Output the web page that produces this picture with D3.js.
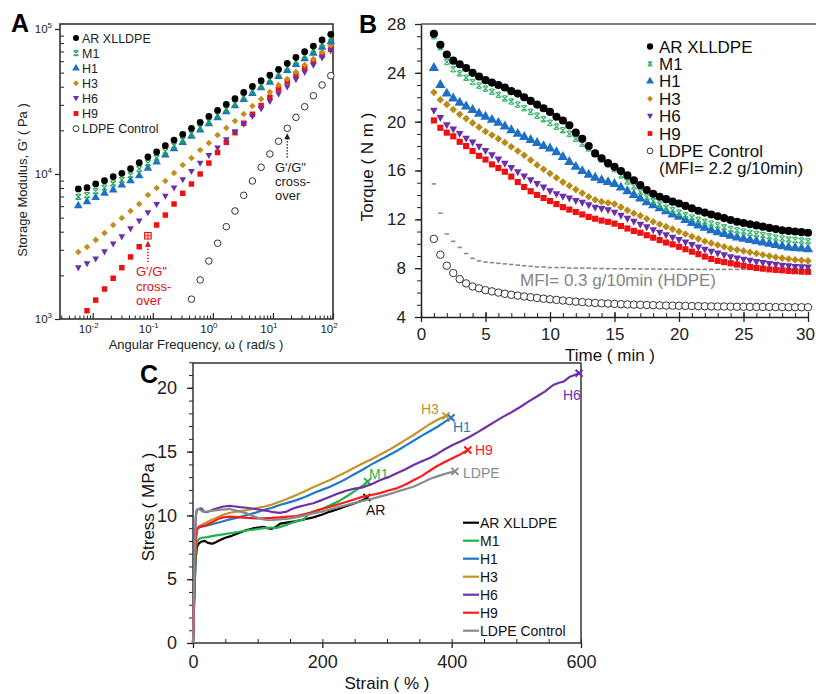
<!DOCTYPE html>
<html>
<head>
<meta charset="utf-8">
<script src="https://cdn.jsdelivr.net/npm/d3@7"></script>
<style>
  body { margin: 0; background: #fff; }
  svg { display: block; font-family: "Liberation Sans", Arial, sans-serif; }
</style>
</head>
<body>
<svg id="fig" width="816" height="694"></svg>
<script>
// ---------- Panel A: storage modulus vs angular frequency ----------
const freqA = [0.00575, 0.00803, 0.0112, 0.0157, 0.0219, 0.0305, 0.0426, 0.0594, 0.0829, 0.1158,
  0.1617, 0.2257, 0.3152, 0.4401, 0.6146, 0.858, 1.198, 1.673, 2.336, 3.262,
  4.554, 6.359, 8.88, 12.4, 17.31, 24.17, 33.75, 47.13, 65.8, 91.9];
const gAR = [7890, 8050, 8540, 8990, 9580, 10100, 10880, 11970, 13100, 14180, 15670, 17150, 18780, 20660, 22730,
  25000, 27500, 30250, 33060, 36580, 40230, 43980, 48140, 52700, 57990, 63790, 69740, 76330, 83970, 91920];
const gM1 = [6970, 7150, 7620, 8050, 8600, 9110, 9830, 10850, 11900, 12920, 14310, 15700, 17230, 19000, 20950,
  23100, 25450, 28050, 30700, 34030, 37480, 41050, 45000, 49340, 54370, 59900, 65580, 71870, 79180, 86800];
const gH1 = [6040, 6440, 6870, 7370, 7760, 8400, 8990, 9730, 10950, 12100, 13500, 14900, 16500, 18200, 20100,
  22200, 24400, 26900, 29500, 32600, 35900, 39300, 43000, 47100, 51800, 56900, 62300, 68100, 74800, 81800];
const gH3 = [2900, 3140, 3510, 3920, 4450, 4970, 5560, 6210, 7160, 8000, 8950, 10160, 11530, 12890, 14640,
  16370, 18580, 20760, 23200, 25930, 29430, 32890, 36770, 41100, 45200, 50500, 56440, 62100, 69350, 77620];
const gH6 = [2250, 2400, 2590, 2900, 3290, 3680, 4180, 4740, 5400, 6160, 7020, 8000, 9120, 10400, 11850,
  13400, 15100, 17200, 19500, 22000, 24900, 28100, 31600, 35500, 39800, 44700, 50100, 56200, 63100, 70800];
const gH9 = [null, 1140, 1350, 1610, 1910, 2260, 2680, 3150, 3750, 4450, 5210, 6210, 7360, 8530, 10000,
  11900, 14060, 16520, 19280, 22390, 25820, 29650, 33880, 38550, 43250, 48310, 53700, 59570, 65770, 72440];
const gLDPE = [null, null, null, null, null, null, null, null, null, null, null, null, null, 1370, 1860,
  2510, 3330, 4330, 5560, 7130, 8950, 11130, 13740, 16820, 20660, 24600, 29100, 34670, 41100, 47660];
const crossH9 = 8;    // index of the H9 cross-over point
const crossLDPE = 24; // index of the LDPE cross-over point

// ---------- Panel B: torque vs time ----------
const timeB = [1, 1.5, 2, 2.5, 3, 3.5, 4, 4.5, 5, 5.5, 6, 6.5, 7, 7.5, 8, 8.5, 9, 9.5, 10, 10.5,
  11, 11.5, 12, 12.5, 13, 13.5, 14, 14.5, 15, 15.5, 16, 16.5, 17, 17.5, 18, 18.5, 19, 19.5, 20, 20.5,
  21, 21.5, 22, 22.5, 23, 23.5, 24, 24.5, 25, 25.5, 26, 26.5, 27, 27.5, 28, 28.5, 29, 29.5, 30];
const tAR = [27.2, 26.3, 25.5, 25.0, 24.7, 24.4, 24.0, 23.7, 23.4, 23.2,
  23.0, 22.8, 22.5, 22.3, 22.0, 21.7, 21.4, 21.1, 20.8, 20.4,
  20.1, 19.7, 19.1, 18.6, 18.0, 17.4, 17.0, 16.6, 16.3, 15.95,
  15.6, 15.2, 14.8, 14.4, 14.1, 13.85, 13.65, 13.45, 13.3, 13.1,
  12.9, 12.7, 12.55, 12.4, 12.25, 12.1, 11.95, 11.8, 11.7, 11.6,
  11.5, 11.4, 11.3, 11.2, 11.1, 11.05, 11.0, 10.95, 10.9];
const tM1 = [27.0, 26.1, 24.9, 24.3, 23.95, 23.6, 23.25, 22.95, 22.7, 22.45,
  22.2, 21.9, 21.65, 21.4, 21.1, 20.8, 20.5, 20.2, 19.9, 19.6,
  19.3, 19.0, 18.6, 18.2, 17.8, 17.35, 16.9, 16.5, 16.1, 15.6,
  15.1, 14.7, 14.25, 13.8, 13.5, 13.2, 12.95, 12.75, 12.55, 12.35,
  12.15, 11.95, 11.8, 11.65, 11.5, 11.35, 11.2, 11.1, 11.0, 10.9,
  10.8, 10.7, 10.6, 10.5, 10.42, 10.35, 10.3, 10.25, 10.2];
const tH1 = [24.4, 23.0, 22.3, 21.9, 21.55, 21.25, 20.95, 20.65, 20.4, 20.15,
  19.9, 19.6, 19.3, 19.0, 18.75, 18.5, 18.25, 18.0, 17.8, 17.5,
  17.1, 16.7, 16.3, 15.95, 15.65, 15.4, 15.2, 15.05, 14.9, 14.6,
  14.3, 14.0, 13.7, 13.4, 13.15, 12.9, 12.65, 12.4, 12.2, 11.95,
  11.7, 11.5, 11.3, 11.1, 10.95, 10.8, 10.65, 10.5, 10.4, 10.3,
  10.2, 10.1, 10.0, 9.9, 9.8, 9.7, 9.65, 9.6, 9.55];
const tH3 = [22.4, 21.8, 21.4, 21.0, 20.6, 20.25, 19.9, 19.55, 19.2, 18.9,
  18.6, 18.3, 17.95, 17.6, 17.25, 16.85, 16.45, 16.1, 15.75, 15.4,
  15.05, 14.75, 14.45, 14.15, 13.85, 13.6, 13.45, 13.35, 13.25, 13.0,
  12.75, 12.5, 12.3, 12.05, 11.8, 11.6, 11.4, 11.2, 11.0, 10.8,
  10.6, 10.4, 10.2, 10.05, 9.9, 9.75, 9.6, 9.5, 9.4, 9.3,
  9.2, 9.1, 9.0, 8.9, 8.82, 8.75, 8.68, 8.64, 8.6];
const tH6 = [20.9, 20.3, 19.7, 19.35, 19.0, 18.6, 18.3, 17.95, 17.6, 17.25,
  16.9, 16.55, 16.2, 15.85, 15.5, 15.2, 14.9, 14.6, 14.3, 14.05,
  13.85, 13.7, 13.5, 13.35, 13.15, 12.95, 12.85, 12.75, 12.55, 12.3,
  12.05, 11.8, 11.55, 11.35, 11.1, 10.9, 10.7, 10.5, 10.3, 10.1,
  9.9, 9.7, 9.5, 9.35, 9.2, 9.05, 8.9, 8.8, 8.7, 8.6,
  8.5, 8.42, 8.35, 8.28, 8.2, 8.15, 8.1, 8.07, 8.05];
const tH9 = [20.1, 19.5, 19.1, 18.8, 18.35, 18.0, 17.6, 17.2, 16.9, 16.5,
  16.2, 15.9, 15.5, 15.05, 14.65, 14.3, 14.0, 13.75, 13.5, 13.25,
  13.0, 12.8, 12.6, 12.4, 12.2, 12.05, 11.9, 11.8, 11.65, 11.45,
  11.25, 11.05, 10.9, 10.7, 10.5, 10.3, 10.1, 9.95, 9.75, 9.55,
  9.35, 9.15, 8.95, 8.75, 8.6, 8.5, 8.4, 8.3, 8.2, 8.1,
  8.02, 7.96, 7.9, 7.86, 7.82, 7.78, 7.75, 7.72, 7.7];
const tLDPE = [10.4, 9.1, 8.2, 7.6, 7.1, 6.75, 6.5, 6.35, 6.2, 6.1,
  6.0, 5.9, 5.82, 5.75, 5.68, 5.62, 5.56, 5.5, 5.45, 5.4,
  5.35, 5.3, 5.26, 5.22, 5.18, 5.15, 5.12, 5.1, 5.07, 5.05,
  5.03, 5.01, 5.0, 4.98, 4.97, 4.95, 4.94, 4.93, 4.92, 4.91,
  4.9, 4.89, 4.88, 4.87, 4.86, 4.86, 4.85, 4.84, 4.84, 4.83,
  4.83, 4.82, 4.82, 4.81, 4.81, 4.8, 4.8, 4.8, 4.8];
const tHDPE = [14.9, 12.5, 10.8, 10.2, 9.7, 9.2, 8.8, 8.6, 8.5, 8.45,
  8.4, 8.35, 8.3, 8.25, 8.2, 8.15, 8.1, 8.1, 8.05, 8.05,
  8.05, 8.0, 8.0, 8.0, 8.0, 7.98, 7.97, 7.96, 7.95, 7.95,
  7.95, 7.94, 7.94, 7.93, 7.93, 7.92, 7.92, 7.92, 7.91, 7.91,
  7.91, 7.9, 7.9, 7.9, 7.9, 7.9, 7.9, 7.9, 7.9, 7.9,
  7.9, 7.9, 7.9, 7.9, 7.9, 7.9, 7.9, 7.9, 7.9];
const ticksBx = [0, 5, 10, 15, 20, 25, 30];
const ticksBy = [4, 8, 12, 16, 20, 24, 28];

// ---------- Panel C: stress vs strain [strain %, stress MPa] ----------
const cAR = [[0,0],[2,3.5],[4,6.5],[6,7.5],[9,7.8],[13,7.95],[18,8.0],[23,7.85],[30,7.78],[36,7.92],[42,8.08],
  [50,8.25],[60,8.4],[70,8.6],[83,8.85],[95,9.0],[109,9.1],[115,9.0],[122,8.95],[128,9.1],[135,9.35],[147,9.45],
  [160,9.55],[173,9.7],[186,9.85],[199,10.05],[212,10.3],[225,10.5],[238,10.75],[250,10.95],[263,11.2],[269,11.4]];
const cM1 = [[0,0],[2,4],[4,7],[6,7.9],[9,8.15],[14,8.25],[22,8.3],[31,8.4],[44,8.5],[57,8.6],[70,8.7],[83,8.82],
  [96,8.9],[109,9.0],[120,9.05],[128,9.0],[135,9.1],[147,9.3],[160,9.55],[172,9.7],[178,10.1],[186,10.3],
  [199,10.5],[212,10.8],[225,11.1],[238,11.5],[250,11.9],[263,12.35],[270,12.65]];
const cH1 = [[0,0],[2,4.5],[4,8],[6,8.9],[9,9.05],[13,9.12],[21,9.2],[31,9.33],[44,9.5],[57,9.69],[70,9.85],
  [83,10.03],[96,10.2],[109,10.42],[122,10.6],[134,10.82],[147,11.0],[160,11.2],[173,11.45],[186,11.73],[199,12.0],
  [212,12.25],[225,12.55],[238,12.9],[250,13.25],[263,13.6],[276,14.0],[289,14.35],[302,14.7],[315,15.05],
  [328,15.45],[341,15.85],[354,16.25],[366,16.6],[378,16.95],[390,17.35],[399,17.66]];
const cH3 = [[0,0],[2,4.5],[4,8],[6,9.0],[9,9.15],[13,9.25],[21,9.45],[31,9.7],[44,10.0],[57,10.21],[70,10.32],
  [83,10.42],[96,10.55],[109,10.68],[122,10.85],[134,11.07],[147,11.32],[160,11.6],[173,11.9],[186,12.2],[199,12.5],
  [212,12.77],[225,13.1],[238,13.42],[250,13.75],[263,14.08],[276,14.4],[289,14.75],[302,15.1],[315,15.5],
  [328,15.9],[341,16.3],[354,16.75],[366,17.15],[378,17.5],[391,17.8]];
const cH6 = [[0,0],[1.5,4],[3,8],[4.5,10.0],[6,10.45],[8,10.5],[13,10.55],[17,10.3],[21,10.25],[26,10.35],[31,10.45],
  [40,10.6],[47,10.7],[57,10.75],[65,10.7],[73,10.65],[83,10.6],[96,10.5],[109,10.4],[116,10.35],[124,10.25],
  [134,10.2],[145,10.3],[153,10.5],[160,10.63],[173,10.8],[186,10.95],[199,11.2],[212,11.47],[225,11.73],
  [238,11.95],[250,12.1],[263,12.2],[276,12.45],[289,12.75],[302,13.0],[315,13.3],[328,13.6],[341,13.95],
  [354,14.25],[366,14.5],[377,14.8],[390,15.2],[403,15.55],[416,15.85],[428,16.17],[441,16.55],[454,16.95],
  [467,17.35],[480,17.74],[493,18.1],[506,18.5],[518,18.9],[531,19.3],[544,19.7],[557,20.22],[566,20.4],
  [573,20.48],[583,20.87],[590,21.0],[597,21.14]];
const cH9 = [[0,0],[2,4.5],[4,8],[6,8.9],[9,9.05],[11,9.12],[21,9.25],[31,9.51],[40,9.75],[47,9.85],[57,9.9],
  [65,9.88],[73,9.85],[85,9.8],[98,9.77],[109,9.77],[122,9.8],[134,9.85],[147,9.9],[160,9.95],[173,10.1],
  [186,10.29],[199,10.5],[212,10.68],[225,10.88],[238,11.07],[250,11.27],[263,11.47],[276,11.6],[289,11.75],
  [302,11.95],[315,12.12],[328,12.4],[341,12.75],[354,13.1],[366,13.5],[377,13.85],[390,14.2],[402,14.5],
  [414,14.8],[425,15.13]];
const cLDPE = [[0,0],[1.5,4],[3,8],[4.5,10.0],[6,10.4],[8,10.5],[11,10.45],[15,10.3],[21,10.29],[26,10.35],
  [31,10.37],[44,10.45],[57,10.5],[65,10.4],[73,10.3],[83,10.16],[90,10.0],[98,9.85],[109,9.69],[116,9.62],
  [124,9.64],[134,9.69],[147,9.75],[160,9.85],[173,10.0],[186,10.16],[199,10.3],[212,10.47],[225,10.65],
  [238,10.82],[250,10.98],[263,11.15],[276,11.3],[289,11.47],[302,11.65],[315,11.86],[328,12.05],[341,12.25],
  [354,12.55],[366,12.85],[380,13.1],[393,13.3],[405,13.45]];
const ticksCx = [0, 200, 400, 600];
const ticksCy = [0, 5, 10, 15, 20];

const names = ["AR XLLDPE", "M1", "H1", "H3", "H6", "H9", "LDPE Control"];

// ---------- helpers ----------
const svg = d3.select("#fig");
const INK = "#222";

function markerPath(kind, s) {
  const r = Math.sqrt(s) / 2;
  if (kind === "circle") return d3.symbol().type(d3.symbolCircle).size(s)();
  if (kind === "triangle") return d3.symbol().type(d3.symbolTriangle).size(s)();
  if (kind === "down") return `M${-r*1.15},${-r*0.9}L${r*1.15},${-r*0.9}L0,${r*1.2}Z`;
  if (kind === "square") return d3.symbol().type(d3.symbolSquare).size(s)();
  if (kind === "diamond") return `M0,${-r*1.3}L${r*1.3},0L0,${r*1.3}L${-r*1.3},0Z`;
  if (kind === "x") return `M${-r},${-r}L${r},${r}M${-r},${r}L${r},${-r}M${-r*0.6},${-r}H${r*0.6}M${-r*0.6},${r}H${r*0.6}`;
  if (kind === "dash") return `M${-r},0H${r}`;
  return "";
}
function styleMarker(sel, kind, color) {
  if (kind === "x") sel.attr("fill", "none").attr("stroke", color).attr("stroke-width", 1.2);
  else if (kind === "open") sel.attr("fill", "#fff").attr("stroke", "#333").attr("stroke-width", 1);
  else if (kind === "dash") sel.attr("fill", "none").attr("stroke", color).attr("stroke-width", 1.6);
  else sel.attr("fill", color).attr("stroke", "none");
}
function plotMarkers(g, xs, ys, xScale, yScale, kind, color, size) {
  const pts = xs.map((x, i) => [x, ys[i]]).filter(d => d[1] != null);
  const shape = kind === "open" ? "circle" : kind;
  const sel = g.append("g").selectAll("path").data(pts).join("path")
    .attr("d", markerPath(shape, size))
    .attr("transform", d => `translate(${xScale(d[0])},${yScale(d[1])})`);
  styleMarker(sel, kind, color);
}
function supLabel(g, x, y, exp, anchor) {
  const t = g.append("text").attr("x", x).attr("y", y).attr("text-anchor", anchor)
    .attr("font-size", 11.5).attr("fill", INK);
  t.append("tspan").text("10");
  t.append("tspan").attr("dy", -5).attr("font-size", 8).text(exp);
}

// =================== PANEL A ===================
const xA = d3.scaleLog().domain([Math.pow(10, -2.545), 100]).range([60, 333]);
const yA = d3.scaleLog().domain([1000, Math.pow(10, 5.0345)]).range([319, 24]);
const gA = svg.append("g");
const stylesA = [
  { vals: gAR, kind: "circle", color: "#000", size: 36 },
  { vals: gM1, kind: "x", color: "#21a35a", size: 30 },
  { vals: gH1, kind: "triangle", color: "#1f6fc5", size: 32 },
  { vals: gH3, kind: "diamond", color: "#c0901e", size: 26 },
  { vals: gH6, kind: "down", color: "#6b2fa8", size: 34 },
  { vals: gH9, kind: "square", color: "#ee1111", size: 30 },
  { vals: gLDPE, kind: "open", color: "#333", size: 34 }
];

// axes A
const decades = [0.01, 0.1, 1, 10, 100];
const minorX = [];
[-3, -2, -1, 0, 1].forEach(d => { for (let k = 2; k <= 9; k++) { const v = k * Math.pow(10, d); if (v > xA.domain()[0]) minorX.push(v); } });
gA.append("g").attr("transform", "translate(0,319)")
  .call(d3.axisBottom(xA).tickValues(minorX).tickSize(-3.5).tickFormat("").tickSizeOuter(0))
  .call(g => g.select(".domain").remove())
  .call(g => g.selectAll("line").attr("stroke", INK));
gA.append("g").attr("transform", "translate(0,319)")
  .call(d3.axisBottom(xA).tickValues(decades).tickSize(-6).tickFormat("").tickSizeOuter(0))
  .call(g => g.select(".domain").remove())
  .call(g => g.selectAll("line").attr("stroke", INK).attr("stroke-width", 1.2));
decades.forEach((d, i) => supLabel(gA, xA(d) - 4, 333, ["-2", "-1", "0", "1", "2"][i], "middle"));

const minorY = [];
[3, 4].forEach(d => { for (let k = 2; k <= 9; k++) minorY.push(k * Math.pow(10, d)); });
gA.append("g").attr("transform", "translate(60,0)")
  .call(d3.axisRight(yA).tickValues(minorY).tickSize(4).tickFormat("").tickSizeOuter(0))
  .call(g => g.select(".domain").remove())
  .call(g => g.selectAll("line").attr("stroke", INK));
gA.append("g").attr("transform", "translate(60,0)")
  .call(d3.axisLeft(yA).tickValues([1e3, 1e4, 1e5]).tickSize(5).tickFormat("").tickSizeOuter(0))
  .call(g => g.select(".domain").remove())
  .call(g => g.selectAll("line").attr("stroke", INK).attr("stroke-width", 1.2));
[[1e3, "3"], [1e4, "4"], [1e5, "5"]].forEach(([v, e]) => supLabel(gA, 52, yA(v) + 4, e, "end"));
gA.append("rect").attr("x", 60).attr("y", 24).attr("width", 273).attr("height", 295)
  .attr("fill", "none").attr("stroke", "#333").attr("stroke-width", 1.6);

// data A (drawn bottom-up so AR sits on top)
stylesA.slice().reverse().forEach(s => plotMarkers(gA, freqA, s.vals, xA, yA, s.kind, s.color, s.size));

// H9 cross-over point (hatched look)
const cxR = xA(freqA[crossH9]), cyR = yA(gH9[crossH9]);
gA.append("rect").attr("x", cxR - 3.3).attr("y", cyR - 3.3).attr("width", 6.6).attr("height", 6.6)
  .attr("fill", "#ffc4c4").attr("stroke", "#e01010").attr("stroke-width", 1);
gA.append("path").attr("d", `M${cxR - 3.3},${cyR}H${cxR + 3.3}M${cxR},${cyR - 3.3}V${cyR + 3.3}`)
  .attr("stroke", "#e01010").attr("stroke-width", 0.7);

// cross-over arrows and notes
function dottedArrow(x, tipY, len, color) {
  gA.append("line").attr("x1", x).attr("x2", x).attr("y1", tipY + 5).attr("y2", tipY + len)
    .attr("stroke", color).attr("stroke-width", 1.6).attr("stroke-dasharray", "1.3,1.7");
  gA.append("path").attr("d", `M${x},${tipY}L${x - 3},${tipY + 6}L${x + 3},${tipY + 6}Z`).attr("fill", color);
}
dottedArrow(cxR, cyR + 5, 23, "#e01010");
const cxL = xA(freqA[crossLDPE]), cyL = yA(gLDPE[crossLDPE]);
dottedArrow(cxL, cyL + 5, 25, "#222");
[["G'/G\"", 276], ["cross-", 291], ["over", 305]].forEach(([t, y]) =>
  gA.append("text").attr("x", 136).attr("y", y).attr("font-size", 13).attr("fill", "#e01010").text(t));
[["G'/G\"", 172], ["cross-", 186], ["over", 200]].forEach(([t, y]) =>
  gA.append("text").attr("x", 275).attr("y", y).attr("font-size", 13).attr("fill", "#222").text(t));

// legend A
names.forEach((n, i) => {
  const s = stylesA[i], y = 38 + i * 15.1;
  const p = gA.append("path").attr("d", markerPath(s.kind === "open" ? "circle" : s.kind, s.size * 0.8))
    .attr("transform", `translate(76,${y})`);
  styleMarker(p, s.kind, s.color);
  gA.append("text").attr("x", 82).attr("y", y + 4.5).attr("font-size", 12.5).attr("fill", INK).text(n);
});

gA.append("text").attr("x", 11).attr("y", 32).attr("font-size", 25).attr("font-weight", "bold").text("A");
gA.append("text").attr("x", 196).attr("y", 349).attr("text-anchor", "middle").attr("font-size", 13)
  .attr("fill", INK).text("Angular Frequency, \u03c9 ( rad/s )");
gA.append("text").attr("transform", "translate(27,180) rotate(-90)").attr("text-anchor", "middle")
  .attr("font-size", 13).attr("fill", INK).text("Storage Modulus, G' ( Pa )");

// =================== PANEL B ===================
const xB = d3.scaleLinear().domain([0, 30]).range([421, 808]);
const yB = d3.scaleLinear().domain([4, 28]).range([317, 24]);
const gB = svg.append("g");

gB.append("g").attr("transform", "translate(0,317)")
  .call(d3.axisBottom(xB).ticks(30).tickSize(-4).tickFormat("").tickSizeOuter(0))
  .call(g => g.select(".domain").remove())
  .call(g => g.selectAll("line").attr("stroke", INK));
gB.append("g").attr("transform", "translate(0,317)")
  .call(d3.axisBottom(xB).tickValues(ticksBx).tickSize(5).tickPadding(6).tickSizeOuter(0))
  .call(g => g.select(".domain").attr("stroke", INK).attr("stroke-width", 1.5))
  .call(g => g.selectAll("line").attr("stroke", INK).attr("y1", -5).attr("stroke-width", 1.3))
  .call(g => g.selectAll("text").attr("font-size", 17).attr("fill", INK).attr("font-family", null)
    .attr("dx", d => d === 30 ? -3 : 0));
gB.append("g").attr("transform", "translate(421,0)")
  .call(d3.axisLeft(yB).ticks(24).tickSize(4).tickFormat("").tickSizeOuter(0))
  .call(g => g.select(".domain").remove())
  .call(g => g.selectAll("line").attr("stroke", INK));
gB.append("g").attr("transform", "translate(421,0)")
  .call(d3.axisLeft(yB).tickValues(ticksBy).tickSize(6).tickPadding(9).tickSizeOuter(0))
  .call(g => g.select(".domain").attr("stroke", INK).attr("stroke-width", 1.5))
  .call(g => g.selectAll("line").attr("stroke", INK).attr("stroke-width", 1.3))
  .call(g => g.selectAll("text").attr("font-size", 17).attr("fill", INK).attr("font-family", null));
gB.append("line").attr("x1", 421).attr("x2", 816).attr("y1", 24).attr("y2", 24)
  .attr("stroke", "#555").attr("stroke-width", 1.5);

const stylesB = [
  { vals: tAR, kind: "circle", color: "#000", size: 52 },
  { vals: tM1, kind: "x", color: "#35b86a", size: 30 },
  { vals: tH1, kind: "triangle", color: "#1f6fc5", size: 46 },
  { vals: tH3, kind: "diamond", color: "#bb8a14", size: 34 },
  { vals: tH6, kind: "down", color: "#6b2fa8", size: 44 },
  { vals: tH9, kind: "square", color: "#ee1111", size: 38 },
  { vals: tLDPE, kind: "open", color: "#333", size: 44 }
];
plotMarkers(gB, timeB, tHDPE, xB, yB, "dash", "#8a8a8a", 20);
stylesB.slice().reverse().forEach(s => plotMarkers(gB, timeB, s.vals, xB, yB, s.kind, s.color, s.size));

names.forEach((n, i) => {
  const s = stylesB[i], y = 46.5 + i * 17.4;
  const p = gB.append("path").attr("d", markerPath(s.kind === "open" ? "circle" : s.kind, s.size * 0.6))
    .attr("transform", `translate(650,${y})`);
  styleMarker(p, s.kind, s.color);
  gB.append("text").attr("x", 659).attr("y", y + 6).attr("font-size", 17).attr("fill", "#111").text(n);
});
gB.append("text").attr("x", 659).attr("y", 46.5 + 7 * 17.4 + 6).attr("font-size", 17).attr("fill", "#111")
  .text("(MFI= 2.2 g/10min)");
gB.append("text").attr("x", 520).attr("y", 286).attr("font-size", 17).attr("fill", "#858585")
  .text("MFI= 0.3 g/10min (HDPE)");

gB.append("text").attr("x", 359).attr("y", 33).attr("font-size", 25).attr("font-weight", "bold").text("B");
gB.append("text").attr("x", 610).attr("y", 361).attr("text-anchor", "middle").attr("font-size", 17)
  .attr("fill", "#111").text("Time ( min )");
gB.append("text").attr("transform", "translate(373,167) rotate(-90)").attr("text-anchor", "middle")
  .attr("font-size", 17).attr("fill", "#111").text("Torque ( N m )");

// =================== PANEL C ===================
const xC = d3.scaleLinear().domain([0, 600]).range([193, 581]);
const yC = d3.scaleLinear().domain([0, 22]).range([643, 362.3]);
const gC = svg.append("g");

gC.append("g").attr("transform", "translate(0,643)")
  .call(d3.axisBottom(xC).ticks(12).tickSize(-4).tickFormat("").tickSizeOuter(0))
  .call(g => g.select(".domain").remove())
  .call(g => g.selectAll("line").attr("stroke", INK));
gC.append("g").attr("transform", "translate(0,643)")
  .call(d3.axisBottom(xC).tickValues(ticksCx).tickSize(5).tickPadding(7).tickSizeOuter(0))
  .call(g => g.select(".domain").remove())
  .call(g => g.selectAll("line").attr("stroke", INK).attr("stroke-width", 1.3))
  .call(g => g.selectAll("text").attr("font-size", 18).attr("fill", INK).attr("font-family", null));
gC.append("g").attr("transform", "translate(193,0)")
  .call(d3.axisLeft(yC).ticks(22).tickSize(4).tickFormat("").tickSizeOuter(0))
  .call(g => g.select(".domain").remove())
  .call(g => g.selectAll("line").attr("stroke", INK));
gC.append("g").attr("transform", "translate(193,0)")
  .call(d3.axisLeft(yC).tickValues(ticksCy).tickSize(6).tickPadding(10).tickSizeOuter(0))
  .call(g => g.select(".domain").remove())
  .call(g => g.selectAll("line").attr("stroke", INK).attr("stroke-width", 1.3))
  .call(g => g.selectAll("text").attr("font-size", 18).attr("fill", INK).attr("font-family", null));
gC.append("rect").attr("x", 193).attr("y", 363).attr("width", 388).attr("height", 280)
  .attr("fill", "none").attr("stroke", "#333").attr("stroke-width", 1.5);

const seriesC = [
  { data: cAR, color: "#000000", label: "AR", lx: 366, ly: 515, lc: "#111" },
  { data: cM1, color: "#1fb24a", label: "M1", lx: 369, ly: 479, lc: "#1fb24a" },
  { data: cH1, color: "#1f78c8", label: "H1", lx: 453, ly: 432, lc: "#1f78c8" },
  { data: cH3, color: "#c4942a", label: "H3", lx: 421, ly: 414, lc: "#c4942a" },
  { data: cH6, color: "#7030a8", label: "H6", lx: 563, ly: 400, lc: "#7030a8" },
  { data: cH9, color: "#ff1a1a", label: "H9", lx: 475, ly: 455, lc: "#ff1a1a" },
  { data: cLDPE, color: "#8a8a8a", label: "LDPE", lx: 463, ly: 478, lc: "#8a8a8a" }
];
const lineC = d3.line().x(d => xC(d[0])).y(d => yC(d[1]));
seriesC.forEach(s => {
  gC.append("path").datum(s.data).attr("d", lineC).attr("fill", "none")
    .attr("stroke", s.color).attr("stroke-width", 2.2).attr("stroke-linejoin", "round");
  const e = s.data[s.data.length - 1], ex = xC(e[0]), ey = yC(e[1]);
  gC.append("path").attr("d", `M${ex - 3.5},${ey - 3.5}L${ex + 3.5},${ey + 3.5}M${ex - 3.5},${ey + 3.5}L${ex + 3.5},${ey - 3.5}`)
    .attr("stroke", s.color).attr("stroke-width", 2);
  gC.append("text").attr("x", s.lx).attr("y", s.ly).attr("font-size", 14).attr("fill", s.lc).text(s.label);
});

names.forEach((n, i) => {
  const y = 522.7 + i * 18;
  gC.append("line").attr("x1", 463).attr("x2", 479).attr("y1", y).attr("y2", y)
    .attr("stroke", seriesC[i].color).attr("stroke-width", 2.2);
  gC.append("text").attr("x", 480).attr("y", y + 5).attr("font-size", 14).attr("fill", "#111").text(n);
});

gC.append("text").attr("x", 140).attr("y", 383).attr("font-size", 25).attr("font-weight", "bold").text("C");
gC.append("text").attr("x", 387).attr("y", 689).attr("text-anchor", "middle").attr("font-size", 17)
  .attr("fill", "#111").text("Strain ( % )");
gC.append("text").attr("transform", "translate(154,507) rotate(-90)").attr("text-anchor", "middle")
  .attr("font-size", 17).attr("fill", "#111").text("Stress ( MPa )");
</script>
</body>
</html>
